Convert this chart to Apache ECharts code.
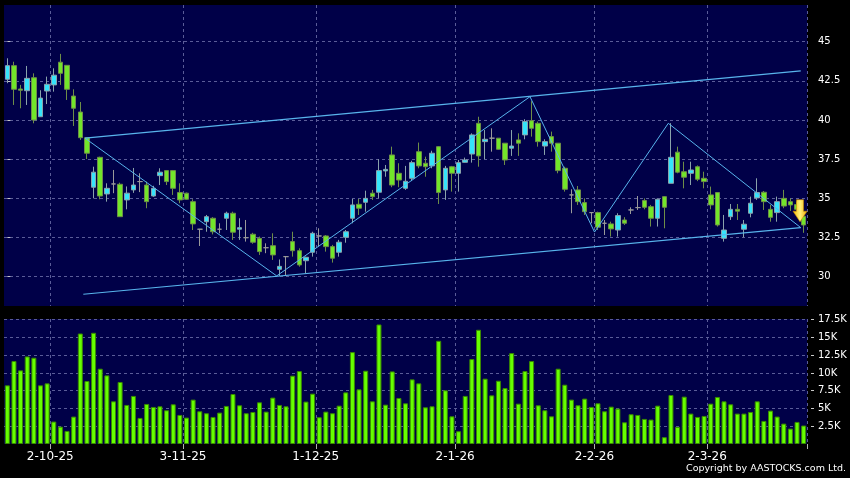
<!DOCTYPE html>
<html><head><meta charset="utf-8">
<script src="https://cdn.jsdelivr.net/npm/echarts@6/dist/echarts.min.js"></script>
<style>html,body{margin:0;padding:0;background:#000;}#c{width:850px;height:478px;}</style>
</head><body><div id="c"></div>
<script>
// trading days (d-m-yy)
const categories = [
 '22-9-25','23-9-25','24-9-25','25-9-25','26-9-25','29-9-25','30-9-25',
 '2-10-25','3-10-25','6-10-25','8-10-25','9-10-25','10-10-25','13-10-25','14-10-25','15-10-25','16-10-25','17-10-25','20-10-25','21-10-25','22-10-25','23-10-25','24-10-25','27-10-25','28-10-25','30-10-25','31-10-25',
 '3-11-25','4-11-25','5-11-25','6-11-25','7-11-25','10-11-25','11-11-25','12-11-25','13-11-25','14-11-25','17-11-25','18-11-25','19-11-25','20-11-25','21-11-25','24-11-25','25-11-25','26-11-25','27-11-25','28-11-25',
 '1-12-25','2-12-25','3-12-25','4-12-25','5-12-25','8-12-25','9-12-25','10-12-25','11-12-25','12-12-25','15-12-25','16-12-25','17-12-25','18-12-25','19-12-25','22-12-25','23-12-25','24-12-25','29-12-25','30-12-25','31-12-25',
 '2-1-26','5-1-26','6-1-26','7-1-26','8-1-26','9-1-26','12-1-26','13-1-26','14-1-26','15-1-26','16-1-26','19-1-26','20-1-26','21-1-26','22-1-26','23-1-26','26-1-26','27-1-26','28-1-26','29-1-26','30-1-26',
 '2-2-26','3-2-26','4-2-26','5-2-26','6-2-26','9-2-26','10-2-26','11-2-26','12-2-26','13-2-26','16-2-26','20-2-26','23-2-26','24-2-26','25-2-26','26-2-26','27-2-26',
 '2-3-26','3-3-26','4-3-26','5-3-26','6-3-26','9-3-26','10-3-26','11-3-26','12-3-26','13-3-26','16-3-26','17-3-26','18-3-26','19-3-26','20-3-26'
];
// [open, close, low, high]
const candles = [
 [42.6,43.47,42.35,43.94],[43.47,41.96,40.96,43.72],[41.98,41.9,40.75,42.24],[41.87,42.66,40.96,43.45],[42.7,40.0,39.79,42.98],
 [40.21,41.4,40.21,41.9],[41.85,42.28,41.02,42.77],[42.24,42.86,41.81,43.3],[43.69,42.98,42.24,44.22],[43.49,41.96,41.28,43.5],
 [41.53,40.75,39.62,41.96],[40.51,38.87,38.73,41.15],[38.87,37.88,37.51,38.9],[35.71,36.67,35.0,37.02],[37.62,35.15,34.94,37.66],
 [35.28,35.64,34.79,35.96],[35.92,35.92,35.33,36.81],[35.9,33.83,33.83,36.0],[34.9,35.33,34.3,35.76],[35.54,35.85,35.35,36.94],
 [36.07,36.07,35.4,36.6],[35.85,34.79,34.37,36.07],[35.15,35.64,35.1,35.8],[36.45,36.67,35.85,36.92],[36.77,36.07,35.85,36.81],
 [36.77,35.64,35.22,36.81],[35.37,34.9,34.69,35.96],[35.33,34.94,34.9,35.37],[34.79,33.37,32.98,34.94],[33.03,33.03,31.96,33.05],
 [33.51,33.83,32.87,33.94],[33.73,32.87,32.7,33.8],[33.03,33.03,32.77,33.41],[33.73,34.05,32.98,34.15],[34.05,32.84,32.35,34.15],
 [33.03,33.13,32.35,33.73],[32.49,32.49,32.24,33.62],[32.71,32.2,32.1,32.8],[32.45,31.6,31.39,32.56],[31.85,31.85,31.5,32.13],
 [31.98,31.39,31.07,32.77],[30.47,30.66,30.05,31.1],[31.28,31.28,30.05,31.3],[32.24,31.66,31.28,32.87],[31.66,30.75,30.64,31.81],
 [31.02,31.24,30.22,31.28],[31.56,32.77,31.28,32.87],[32.6,32.6,31.92,33.09],[32.6,31.92,31.6,32.66],[31.92,31.18,30.9,32.03],
 [31.56,32.2,31.28,32.35],[32.52,32.87,32.17,32.98],[33.73,34.58,33.41,34.96],[34.62,34.37,33.94,34.96],[34.75,35.0,34.15,35.49],
 [35.33,35.11,34.9,35.54],[35.39,36.77,35.0,37.5],[36.75,36.85,36.38,37.13],[37.77,35.85,35.71,38.3],[36.6,36.17,35.71,37.24],
 [35.64,36.09,35.54,37.07],[36.28,37.28,36.1,37.4],[37.98,37.07,36.92,38.56],[37.24,37.02,36.38,37.66],[37.07,37.88,36.92,38.04],
 [38.3,35.37,34.64,38.34],[35.54,36.92,34.9,37.07],[37.02,36.6,35.43,37.07],[36.6,37.28,35.43,37.45],[37.3,37.45,37.28,37.6],
 [37.83,39.05,37.28,39.15],[39.79,37.71,37.02,40.21],[38.62,38.77,37.5,39.36],[38.84,38.84,37.98,39.47],[38.84,38.13,38.1,38.84],
 [38.52,37.45,37.13,38.52],[38.2,38.34,37.71,39.36],[38.73,38.52,37.71,39.15],[39.05,39.9,38.77,40.05],[39.96,39.47,38.94,41.2],
 [39.79,38.62,38.3,39.9],[38.34,38.62,37.77,38.77],[38.94,38.52,37.98,39.26],[38.52,36.77,36.6,38.52],[36.92,35.58,35.43,37.02],
 [35.22,35.22,34.05,35.58],[35.54,34.79,34.58,35.79],[34.73,34.15,33.94,35.0],[34.09,34.09,33.41,34.09],[34.09,33.16,32.98,34.15],
 [33.41,33.41,32.66,33.62],[33.37,33.05,32.56,33.51],[32.98,33.9,32.56,34.05],[33.62,33.41,33.3,33.8],[34.26,34.26,34.0,34.43],
 [34.41,34.41,34.26,35.15],[34.86,34.43,34.3,35.0],[34.47,33.73,33.2,34.58],[33.73,34.94,33.2,35.0],[35.11,34.43,33.09,35.15],
 [35.96,37.62,35.96,39.8],[37.95,36.67,36.6,38.3],[36.7,36.35,35.64,37.34],[36.6,36.81,35.85,37.34],[37.02,36.22,36.1,37.1],
 [36.28,36.07,35.64,36.7],[35.22,34.58,34.3,35.75],[35.37,33.3,33.2,35.37],[32.45,32.98,32.24,33.94],[33.83,34.3,33.62,34.64],
 [34.3,34.18,33.62,34.64],[33.03,33.35,32.52,33.62],[34.05,34.69,33.79,35.11],[35.03,35.37,34.9,36.28],[35.39,34.79,34.26,35.47],
 [34.3,33.79,33.51,34.58],[34.09,34.79,33.51,35.11],[35.0,34.51,34.37,35.54],[34.79,34.58,34.2,35.0],[34.6,34.3,34.1,34.8],
 [33.85,33.3,32.8,33.94]
];
// volume, thousands of shares
const volumes = [
 8.26,11.68,10.37,12.33,12.15,8.26,8.54,3.16,2.45,1.84,
 3.86,15.56,8.87,15.66,10.6,9.66,6.01,8.73,5.5,6.77,
 3.67,5.64,5.22,5.31,4.75,5.59,4.09,3.72,6.25,4.61,
 4.33,3.81,4.42,5.36,7.04,5.45,4.33,4.51,5.87,4.56,
 6.53,5.5,5.31,9.62,10.27,5.97,7.09,3.77,4.56,4.33,
 5.4,7.27,12.94,7.7,10.32,6.01,16.83,5.54,10.22,6.48,
 5.73,9.1,8.54,5.17,5.31,14.53,7.56,3.9,1.8,6.77,
 11.96,16.08,9.2,6.85,8.91,7.88,12.8,5.68,10.27,11.68,
 5.45,4.75,3.9,10.6,8.35,6.25,5.45,6.39,5.22,5.73,
 4.61,5.26,4.98,3.06,4.19,4.09,3.53,3.44,5.4,0.96,
 6.9,2.41,6.67,4.28,3.81,3.95,5.68,6.62,6.01,5.59,
 4.28,4.28,4.51,6.01,3.25,4.7,3.86,2.87,2.17,3.11,2.6
];
// trend lines: [bar position, price]
const upperChannel = [[11.71,38.84],[119.56,43.13]];
const lowerChannel = [[11.45,28.88],[119.56,33.13]];
const zigzag = [[11.71,38.84],[40.59,30.05],[78.76,41.49],[88.48,32.85],[99.6,39.79],[119.56,33.13]];
const arrowPoint = [[119.45,34.21]];
const tickLabels = ['2-10-25','3-11-25','1-12-25','2-1-26','2-2-26','2-3-26'];
const priceTicks = [30,32.5,35,37.5,40,42.5,45];
const volumeTicks = [2.5,5,7.5,10,12.5,15,17.5];

const chart = echarts.init(document.getElementById('c'), null, {renderer:'canvas'});
const labelSet = new Set(tickLabels);
const atLabel = (i) => labelSet.has(categories[i]);
const dash = {color:'#5a5c98', type:[3,3], width:1};
const NAVY = '#000048';
const FONT = 'DejaVu Sans';
const lineCol = '#58b4ec';

chart.setOption({
  backgroundColor:'#000000',
  animation:false,
  grid:[
    {left:4, right:43, top:5, height:301, show:true, backgroundColor:NAVY, borderWidth:0},
    {left:4, right:43, top:319, height:125, show:true, backgroundColor:NAVY, borderWidth:0}
  ],
  xAxis:[
    {type:'category', gridIndex:0, data:categories, boundaryGap:true,
     axisLine:{show:false}, axisTick:{show:false}, axisLabel:{show:false},
     splitLine:{show:true, interval:atLabel, lineStyle:dash}},
    {type:'category', gridIndex:1, data:categories, boundaryGap:true,
     axisLine:{show:false},
     axisTick:{show:true, interval:atLabel, length:5, lineStyle:{color:'#b0b0b0'}},
     axisLabel:{show:true, interval:atLabel, color:'#ffffff', fontFamily:FONT, fontSize:12, margin:7, padding:[0,7,0,0]},
     splitLine:{show:true, interval:atLabel, lineStyle:dash}},
    {type:'value', gridIndex:0, min:-0.5, max:120.5, show:false}
  ],
  yAxis:[
    {type:'value', gridIndex:0, position:'right', min:28.13, max:47.34, offset:4, scale:true,
     axisLine:{show:false},
     axisTick:{show:true, length:3, customValues:priceTicks, lineStyle:{color:'#c8c8c8'}},
     axisLabel:{customValues:priceTicks, color:'#ffffff', fontFamily:FONT, fontSize:10, margin:7},
     splitLine:{show:true, lineStyle:dash}},
    {type:'value', gridIndex:1, position:'right', min:0, max:17.6, offset:4,
     axisLine:{show:false},
     axisTick:{show:true, length:3, customValues:volumeTicks, lineStyle:{color:'#c8c8c8'}},
     axisLabel:{customValues:volumeTicks, color:'#ffffff', fontFamily:FONT, fontSize:10, margin:7, formatter:(v)=>v+'K'},
     splitLine:{show:true, lineStyle:dash}}
  ],
  series:[
    {type:'candlestick', xAxisIndex:0, yAxisIndex:0, data:candles, barWidth:5,
     itemStyle:{color:'#35e4fb', color0:'#72e62a', borderColor:'#8aa3ab', borderColor0:'#6e8e48', borderColorDoji:'#9a9a9a', borderWidth:1}},
    {type:'bar', xAxisIndex:1, yAxisIndex:1, data:volumes, barWidth:5,
     itemStyle:{color:'#66ff00', borderColor:'#3a8a00', borderWidth:1}},
    {type:'line', xAxisIndex:2, yAxisIndex:0, data:upperChannel, symbol:'none', silent:true,
     lineStyle:{color:lineCol, width:1.2}},
    {type:'line', xAxisIndex:2, yAxisIndex:0, data:lowerChannel, symbol:'none', silent:true,
     lineStyle:{color:lineCol, width:1.2}},
    {type:'line', xAxisIndex:2, yAxisIndex:0, data:zigzag, symbol:'none', silent:true,
     lineStyle:{color:lineCol, width:1}},
    {type:'scatter', xAxisIndex:2, yAxisIndex:0, data:arrowPoint, silent:true, clip:false,
     symbol:'path://M3.5,0 L10.5,0 L10.5,11.5 L14,11.5 L7,22 L0,11.5 L3.5,11.5 Z',
     symbolSize:[14,22], z:10,
     itemStyle:{opacity:1, color:new echarts.graphic.LinearGradient(0,0,1,0,[{offset:0,color:'#f5b800'},{offset:0.5,color:'#fff27a'},{offset:1,color:'#f0a800'}]), borderColor:'#c98c00', borderWidth:0.6}}
  ],
  graphic:[
    {type:'text', right:4, top:464, silent:true,
     style:{text:'Copyright by AASTOCKS.com Ltd.', fill:'#ffffff', font:'9.5px "DejaVu Sans"'}}
  ]
});
</script></body></html>
